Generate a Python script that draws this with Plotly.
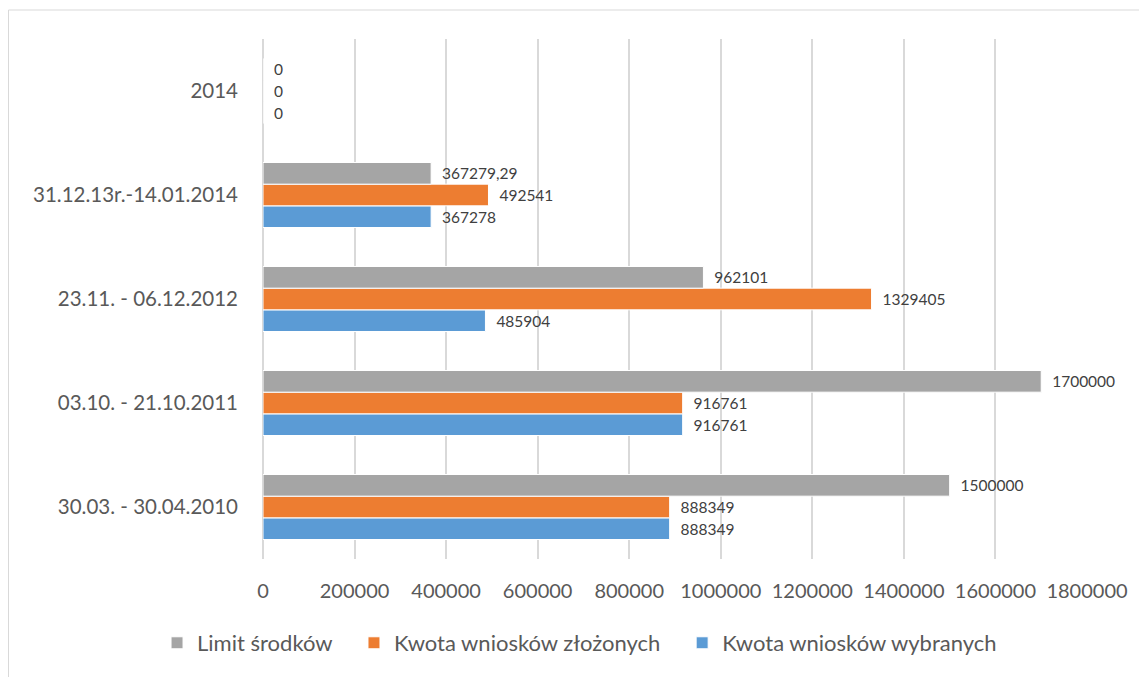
import plotly.graph_objects as go

categories = ["30.03. - 30.04.2010", "03.10. - 21.10.2011", "23.11. - 06.12.2012",
              "31.12.13r.-14.01.2014", "2014"]
limit_srodkow = [1500000, 1700000, 962101, 367279.29, 0]
limit_labels = ["1500000", "1700000", "962101", "367279,29", "0"]
kwota_zlozonych = [888349, 916761, 1329405, 492541, 0]
kwota_wybranych = [888349, 916761, 485904, 367278, 0]
tick_vals = [0, 200000, 400000, 600000, 800000, 1000000, 1200000, 1400000, 1600000, 1800000]

FONT = "Lato"
NB = "\u00a0"
PAD = NB * 2

W, H = 1139, 669
L, T, PW, PH = 255, 31, 824, 520

def lab(v):
    return [PAD + s for s in v]

fig = go.Figure()
series = [
    ("Kwota wniosków wybranych", kwota_wybranych, [str(v) for v in kwota_wybranych], "#5B9BD5", ""),
    ("Kwota wniosków złożonych", kwota_zlozonych, [str(v) for v in kwota_zlozonych], "#ED7D31", NB * 3),
    ("Limit środków", limit_srodkow, limit_labels, "#A5A5A5", NB * 3),
]
for name, vals, labels, color, tail in series:
    fig.add_trace(go.Bar(
        y=categories, x=vals, name=name + tail, orientation="h",
        marker=dict(color=color, line=dict(color="white", width=1)),
        text=lab(labels), textposition="outside", cliponaxis=False,
        constraintext="none",
        textfont=dict(family=FONT, size=15.5, color="#404040"),
        hovertemplate=name + ": %{x}<extra></extra>",
    ))

fig.update_layout(
    width=W, height=H,
    paper_bgcolor="white", plot_bgcolor="white",
    margin=dict(l=L, r=W - L - PW, t=T, b=H - T - PH, autoexpand=False),
    barmode="group", bargap=0.375, bargroupgap=0,
    font=dict(family=FONT, color="#595959"),
    showlegend=True,
    legend=dict(orientation="h", traceorder="reversed",
                x=-0.1286, xanchor="left", y=-0.1615, yanchor="middle",
                font=dict(family=FONT, size=22, color="#595959"),
                bgcolor="rgba(0,0,0,0)"),
    xaxis=dict(range=[0, 1800000], tickvals=tick_vals,
               ticktext=[str(v) for v in tick_vals],
               showgrid=True, gridcolor="#D9D9D9", gridwidth=1.5,
               zeroline=True, zerolinecolor="#D9D9D9", zerolinewidth=1.5,
               showline=False, ticks="", ticklabelstandoff=18, automargin=False,
               tickfont=dict(family=FONT, size=20, color="#595959"),
               fixedrange=True),
    yaxis=dict(categoryorder="array", categoryarray=categories,
               showgrid=False, zeroline=False, showline=False, ticks="",
               ticklabelstandoff=24, automargin=False,
               tickfont=dict(family=FONT, size=20.5, color="#595959"),
               fixedrange=True),
    shapes=[dict(type="rect", xref="paper", yref="paper",
                 x0=(0.5 - L) / PW, x1=1.2, y0=-0.4, y1=1 + (T - 2) / PH,
                 line=dict(color="#D9D9D9", width=1), fillcolor="rgba(0,0,0,0)",
                 layer="below")],
)

fig.write_html("out.html")
